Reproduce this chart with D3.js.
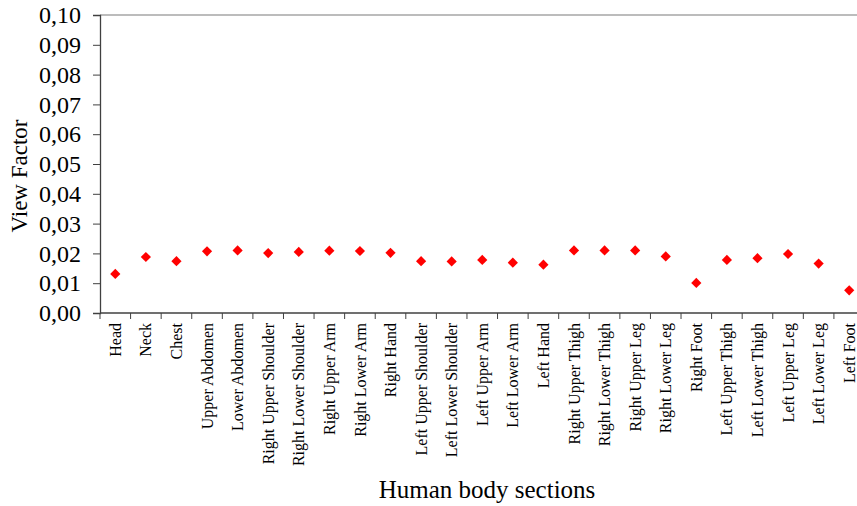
<!DOCTYPE html>
<html>
<head>
<meta charset="utf-8">
<script src="https://cdn.jsdelivr.net/npm/d3@7"></script>
<style>
  body { margin: 0; background: #fff; }
  svg { display: block; }
  svg text { font-family: "Liberation Serif", "Times New Roman", serif !important; }
</style>
</head>
<body>
<div id="chart"></div>
<script>
const sections = [
  "Head", "Neck", "Chest", "Upper Abdomen", "Lower Abdomen",
  "Right Upper Shoulder", "Right Lower Shoulder", "Right Upper Arm", "Right Lower Arm", "Right Hand",
  "Left Upper Shoulder", "Left Lower Shoulder", "Left Upper Arm", "Left Lower Arm", "Left Hand",
  "Right Upper Thigh", "Right Lower Thigh", "Right Upper Leg", "Right Lower Leg", "Right Foot",
  "Left Upper Thigh", "Left Lower Thigh", "Left Upper Leg", "Left Lower Leg", "Left Foot"
];
const viewFactor = [
  0.0131, 0.0188, 0.0174, 0.0207, 0.0210,
  0.0201, 0.0205, 0.0209, 0.0208, 0.0202,
  0.0174, 0.0173, 0.0178, 0.0169, 0.0162,
  0.0210, 0.0210, 0.0210, 0.0190, 0.0101,
  0.0178, 0.0184, 0.0198, 0.0166, 0.0076
];
const yTicks = [0, 0.01, 0.02, 0.03, 0.04, 0.05, 0.06, 0.07, 0.08, 0.09, 0.10];

const width = 857, height = 506;
const margin = { top: 15, left: 100, bottom: 193 };
const plotRight = 864.5; // plot area runs past the picture edge

const svg = d3.select("#chart").append("svg")
  .attr("width", width)
  .attr("height", height);

const x = d3.scaleBand().domain(sections).range([margin.left, plotRight]).padding(0);
const y = d3.scaleLinear().domain([0, 0.10]).range([height - margin.bottom, margin.top]);

// top border
svg.append("line")
  .attr("x1", margin.left).attr("x2", width)
  .attr("y1", y(0.10)).attr("y2", y(0.10))
  .attr("stroke", "#a6a6a6").attr("stroke-width", 1.5);

// y axis
const yAxis = svg.append("g")
  .attr("transform", `translate(${margin.left},0)`)
  .call(d3.axisLeft(y)
    .tickValues(yTicks)
    .tickSize(7)
    .tickPadding(12)
    .tickFormat(d => d.toFixed(2).replace(".", ",")))
  .attr("font-size", 24);
yAxis.select(".domain").attr("stroke", "#404040").attr("stroke-width", 1.3);
yAxis.selectAll(".tick line").attr("stroke", "#404040");
yAxis.selectAll("text").attr("fill", "#000");

// x axis: labels at band centres, tick marks at band edges
const xAxis = svg.append("g")
  .attr("transform", `translate(0,${y(0)})`)
  .call(d3.axisBottom(x).tickSize(0).tickPadding(0))
  .attr("font-size", 16);
xAxis.select(".domain").remove();
xAxis.selectAll("text")
  .attr("fill", "#000")
  .attr("text-anchor", "end")
  .attr("transform", "rotate(-90)")
  .attr("x", -10)
  .attr("y", 0)
  .attr("dy", "0.35em");

const g = svg.append("g");
g.append("line")
  .attr("x1", margin.left).attr("x2", plotRight)
  .attr("y1", y(0)).attr("y2", y(0))
  .attr("stroke", "#404040").attr("stroke-width", 1.3);
g.selectAll(".xtick")
  .data(sections)
  .join("line")
  .attr("class", "xtick")
  .attr("x1", d => x(d)).attr("x2", d => x(d))
  .attr("y1", y(0)).attr("y2", y(0) + 6)
  .attr("stroke", "#404040");

// points
const diamond = d3.symbol(d3.symbolSquare, 52);
svg.append("g")
  .selectAll("path")
  .data(sections)
  .join("path")
  .attr("d", diamond)
  .attr("transform", (d, i) => `translate(${x(d) + x.bandwidth() / 2},${y(viewFactor[i])}) rotate(45)`)
  .attr("fill", "#ff0000");

// axis titles
svg.append("text")
  .attr("transform", `translate(27,${(y(0) + y(0.10)) / 2 + 12}) rotate(-90)`)
  .attr("text-anchor", "middle")
  .style("font-size", "23px")
  .text("View Factor");

svg.append("text")
  .attr("x", 487)
  .attr("y", 498)
  .attr("text-anchor", "middle")
  .style("font-size", "25px")
  .text("Human body sections");
</script>
</body>
</html>
